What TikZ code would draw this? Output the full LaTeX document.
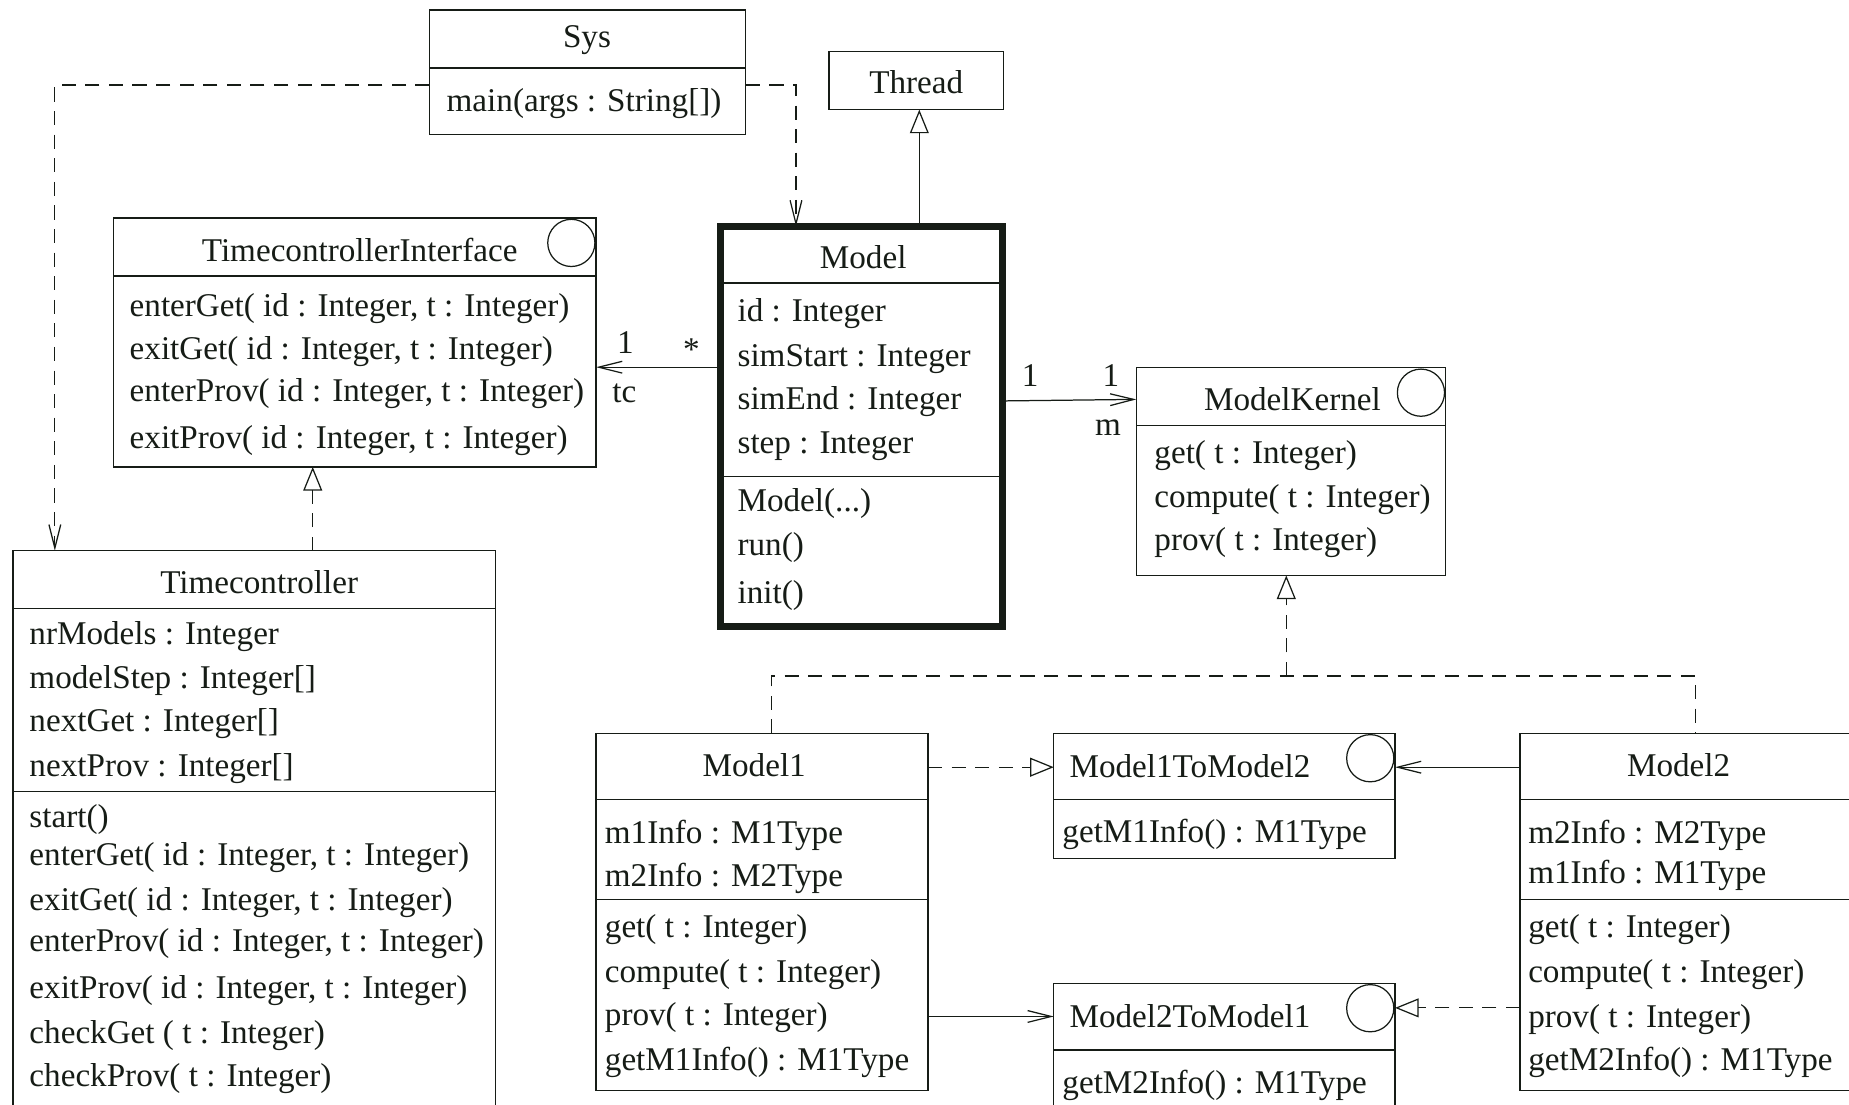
\documentclass[tikz,border=0pt]{standalone}
\usepackage{fontspec}
\setmainfont{Liberation Serif}
\usetikzlibrary{arrows.meta}
\definecolor{ink}{RGB}{22,28,22}

\begin{document}
\begin{tikzpicture}[x=0.2mm,y=-0.2mm,line width=0.6pt,color=ink,
    every node/.style={inner sep=0pt,outer sep=0pt,font=\fontsize{16}{19}\selectfont},
    cls/.style={draw,rectangle},
    entry/.style={anchor=base west,yshift=-0.4mm},
    title/.style={anchor=base,yshift=-0.4mm},
    iface/.style={draw,circle,minimum size=8mm},
    barb/.style={-{Straight Barb[length=4mm,width=2mm]}},
    dashbarb/.style={barb,dash pattern=on 2.4mm off 1.6mm},
    hollow/.style={-{Triangle[open,length=4mm,width=3.2mm]}},
    dashhollow/.style={hollow,dash pattern=on 2.4mm off 1.6mm}]
  \useasboundingbox (0,0) rectangle (1568,937);

  % class boxes
  \node[cls,minimum width=268.2*0.2mm,minimum height=105.7*0.2mm] (sys) at (498.4,61.35) {};
  \node[cls,minimum width=148*0.2mm,minimum height=49*0.2mm] (thread) at (777,68.5) {};
  \node[cls,minimum width=409.5*0.2mm,minimum height=211.2*0.2mm] (tci) at (300.75,290.4) {};
  \node[cls,line width=3.4pt,minimum width=239.5*0.2mm,minimum height=339*0.2mm] (model) at (730.75,361.5) {};
  \node[cls,minimum width=262.4*0.2mm,minimum height=176.6*0.2mm] (mk) at (1094.8,399.7) {};
  \node[cls,minimum width=409*0.2mm,minimum height=533*0.2mm] (timectl) at (215.5,733.5) {};
  \node[cls,minimum width=281.5*0.2mm,minimum height=303*0.2mm] (model1) at (646.25,773.5) {};
  \node[cls,minimum width=289.4*0.2mm,minimum height=106*0.2mm] (m1tom2) at (1038.3,675) {};
  \node[cls,minimum width=289.4*0.2mm,minimum height=166*0.2mm] (m2tom1) at (1038.3,917) {};
  \node[cls,minimum width=361*0.2mm,minimum height=303*0.2mm] (model2) at (1469.5,773.5) {};

  % compartments
  \draw (sys.west |- 0,57.6) -- (sys.east |- 0,57.6);
  \draw (tci.west |- 0,234) -- (tci.east |- 0,234);
  \draw (model.west |- 0,240) -- (model.east |- 0,240);
  \draw (model.west |- 0,404) -- (model.east |- 0,404);
  \draw (mk.west |- 0,361) -- (mk.east |- 0,361);
  \draw (timectl.west |- 0,516) -- (timectl.east |- 0,516);
  \draw (timectl.west |- 0,671) -- (timectl.east |- 0,671);
  \draw (model1.west |- 0,678) -- (model1.east |- 0,678);
  \draw (model1.west |- 0,762.5) -- (model1.east |- 0,762.5);
  \draw (m1tom2.west |- 0,678) -- (m1tom2.east |- 0,678);
  \draw (m2tom1.west |- 0,890.5) -- (m2tom1.east |- 0,890.5);
  \draw (model2.west |- 0,678) -- (model2.east |- 0,678);
  \draw (model2.west |- 0,762.5) -- (model2.east |- 0,762.5);

  % interface marks
  \node[iface] (tci-c) at (484.5,206) {};
  \node[iface] (mk-c) at (1205,333) {};
  \node[iface] (m1tom2-c) at (1162,643) {};
  \node[iface] (m2tom1-c) at (1162,855) {};

  % names
  \node[title] (sys-t) at (497.8,38) {Sys};
  \node[title] (thread-t) at (777,77.3) {Thread};
  \node[title] (tci-t) at (305,219.6) {TimecontrollerInterface};
  \node[title] (model-t) at (732,225.7) {Model};
  \node[title] (mk-t) at (1096,346) {ModelKernel};
  \node[title] (timectl-t) at (219.8,501) {Timecontroller};
  \node[title] (model1-t) at (639.6,656.6) {Model1};
  \node[entry] (m1tom2-t) at (907,657) {Model1ToModel2};
  \node[entry] (m2tom1-t) at (907,869) {Model2ToModel1};
  \node[title] (model2-t) at (1423.5,656.6) {Model2};

  % attributes and operations
  \node[entry] (sys-o1) at (378.8,92.4) {main(args : String[])};
  \foreach \y/\t [count=\i] in {266.6/{enterGet( id : Integer, t : Integer)},
      303/{exitGet( id : Integer, t : Integer)},
      338.6/{enterProv( id : Integer, t : Integer)},
      378.5/{exitProv( id : Integer, t : Integer)}}
    \node[entry] (tci-o\i) at (110,\y) {\t};
  \foreach \y/\t [count=\i] in {271/{id : Integer}, 309/{simStart : Integer},
      345.4/{simEnd : Integer}, 383/{step : Integer}}
    \node[entry] (model-a\i) at (625.5,\y) {\t};
  \foreach \y/\t [count=\i] in {431.7/{Model(...)}, 469.5/{run()}, 510/{init()}}
    \node[entry] (model-o\i) at (625.5,\y) {\t};
  \foreach \y/\t [count=\i] in {390.8/{get( t : Integer)}, 428/{compute( t : Integer)},
      465/{prov( t : Integer)}}
    \node[entry] (mk-o\i) at (979,\y) {\t};
  \foreach \y/\t [count=\i] in {544.5/{nrModels : Integer}, 581.8/{modelStep : Integer[]},
      618.5/{nextGet : Integer[]}, 656.6/{nextProv : Integer[]}}
    \node[entry] (timectl-a\i) at (25,\y) {\t};
  \foreach \y/\t [count=\i] in {699.5/{start()},
      732/{enterGet( id : Integer, t : Integer)},
      769.8/{exitGet( id : Integer, t : Integer)},
      805/{enterProv( id : Integer, t : Integer)},
      844.7/{exitProv( id : Integer, t : Integer)},
      883/{checkGet ( t : Integer)}, 919.5/{checkProv( t : Integer)}}
    \node[entry] (timectl-o\i) at (25,\y) {\t};
  \foreach \y/\t [count=\i] in {713.6/{m1Info : M1Type}, 750/{m2Info : M2Type}}
    \node[entry] (model1-a\i) at (513,\y) {\t};
  \foreach \y/\t [count=\i] in {792.7/{get( t : Integer)}, 830.9/{compute( t : Integer)},
      867.5/{prov( t : Integer)}, 905.8/{getM1Info() : M1Type}}
    \node[entry] (model1-o\i) at (513,\y) {\t};
  \node[entry] (m1tom2-o1) at (901,712.5) {getM1Info() : M1Type};
  \node[entry] (m2tom1-o1) at (901,925.4) {getM2Info() : M1Type};
  \foreach \y/\t [count=\i] in {713.6/{m2Info : M2Type}, 747/{m1Info : M1Type}}
    \node[entry] (model2-a\i) at (1296,\y) {\t};
  \foreach \y/\t [count=\i] in {792.7/{get( t : Integer)}, 830.9/{compute( t : Integer)},
      869/{prov( t : Integer)}, 905.8/{getM2Info() : M1Type}}
    \node[entry] (model2-o\i) at (1296,\y) {\t};

  % relations
  \draw[dashbarb] (sys.west |- 0,72) -| (timectl.north -| 46.5,0);
  \draw[dashbarb] (sys.east |- 0,72) -| (model.north -| 675,0);
  \draw[hollow] (model.north -| 779.6,0) -- (thread.south -| 779.6,0);
  \draw[dashhollow] (timectl.north -| 265.2,0) -- (tci.south -| 265.2,0);
  \draw[barb] (model.west |- 0,311.4) -- (tci.east |- 0,311.4);
  \draw[barb] (model.east |- 0,340) -- (mk.west |- 0,338.7);
  \coordinate (kern) at (1090.8,573.3);
  \draw[dashhollow] (kern) -- (mk.south -| kern);
  \draw[dash pattern=on 2.4mm off 1.6mm] (model1.north -| 654,0) |- (kern) -| (model2.north -| 1437.6,0);
  \draw[dashhollow] (model1.east |- 0,650.6) -- (m1tom2.west |- 0,650.6);
  \draw[barb] (model2.west |- 0,650.6) -- (m1tom2.east |- 0,650.6);
  \draw[barb] (model1.east |- 0,862) -- (m2tom1.west |- 0,862);
  \draw[dashhollow] (model2.west |- 0,854.7) -- (m2tom1.east |- 0,854.7);

  % multiplicities and roles
  \node[title] (tc-one) at (530.4,297.7) {1};
  \node[title] (tc-many) at (586.4,304) {*};
  \node[title] (tc-role) at (529.4,339.3) {tc};
  \node[title] (mk-one) at (873.6,325.7) {1};
  \node[title] (mk-one2) at (942,325.7) {1};
  \node[title] (mk-role) at (939.7,367) {m};
\end{tikzpicture}
\end{document}
